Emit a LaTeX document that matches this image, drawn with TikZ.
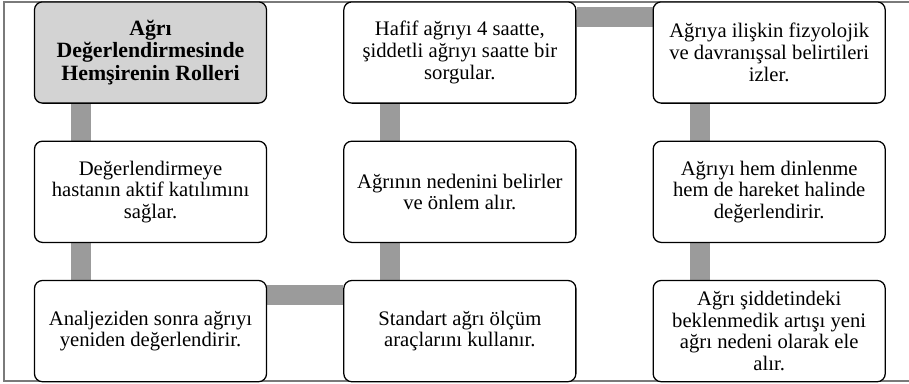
\documentclass[tikz,border=0pt]{standalone}
\usepackage{fontspec}
\setmainfont{Liberation Serif}
\usetikzlibrary{positioning,backgrounds}
\definecolor{BarGrey}{HTML}{9B9B9B}
\definecolor{HeadGrey}{HTML}{D3D3D3}
\definecolor{FrameGrey}{HTML}{7A7A7A}

\begin{document}
\begin{tikzpicture}[x=0.025cm,y=-0.025cm,
  box/.style={draw,line width=0.9pt,rounded corners=0.2cm,fill=white,minimum width=5.8cm,minimum height=2.53cm,align=center,font=\fontsize{14.7}{15.4}\selectfont},
  bar/.style={BarGrey,line width=0.5cm},
  node distance=0.92cm and 1.9cm]
  \useasboundingbox (0,0) rectangle (909,383);
  \node[box,fill=HeadGrey,font=\fontsize{15.5}{16.2}\selectfont\bfseries] (rol) at (150.5,52.5) {Ağrı\\Değerlendirmesinde\\Hemşirenin Rolleri};
  \node[box,below=of rol] (kat) {Değerlendirmeye\\hastanın aktif katılımını\\sağlar.};
  \node[box,below=of kat] (ana) {Analjeziden sonra ağrıyı\\yeniden değerlendirir.};
  \node[box,right=of ana] (std) {Standart ağrı ölçüm\\araçlarını kullanır.};
  \node[box,above=of std] (ned) {Ağrının nedenini belirler\\ve önlem alır.};
  \node[box,above=of ned] (haf) {Hafif ağrıyı 4 saatte,\\şiddetli ağrıyı saatte bir\\sorgular.};
  \node[box,right=of haf] (fiz) {Ağrıya ilişkin fizyolojik\\ve davranışsal belirtileri\\izler.};
  \node[box,below=of fiz] (din) {Ağrıyı hem dinlenme\\hem de hareket halinde\\değerlendirir.};
  \node[box,below=of din] (sid) {Ağrı şiddetindeki\\beklenmedik artışı yeni\\ağrı nedeni olarak ele\\alır.};
  % frame and grey bars behind the boxes
  \begin{scope}[on background layer]
    \draw[FrameGrey,line width=0.8pt] (909,2) -- (4,2) -- (4,381) -- (909,381);
    \draw[bar] ([xshift=1.175cm]rol.south west) -- ([xshift=1.175cm]kat.north west);
    \draw[bar] ([xshift=1.175cm]kat.south west) -- ([xshift=1.175cm]ana.north west);
    \draw[bar] ([yshift=-0.39cm]ana.north east) -- ([yshift=-0.39cm]std.north west);
    \draw[bar] ([xshift=1.175cm]std.north west) -- ([xshift=1.175cm]ned.south west);
    \draw[bar] ([xshift=1.175cm]ned.north west) -- ([xshift=1.175cm]haf.south west);
    \draw[bar] ([yshift=-0.39cm]haf.north east) -- ([yshift=-0.39cm]fiz.north west);
    \draw[bar] ([xshift=1.175cm]fiz.south west) -- ([xshift=1.175cm]din.north west);
    \draw[bar] ([xshift=1.175cm]din.south west) -- ([xshift=1.175cm]sid.north west);
  \end{scope}
\end{tikzpicture}
\end{document}
